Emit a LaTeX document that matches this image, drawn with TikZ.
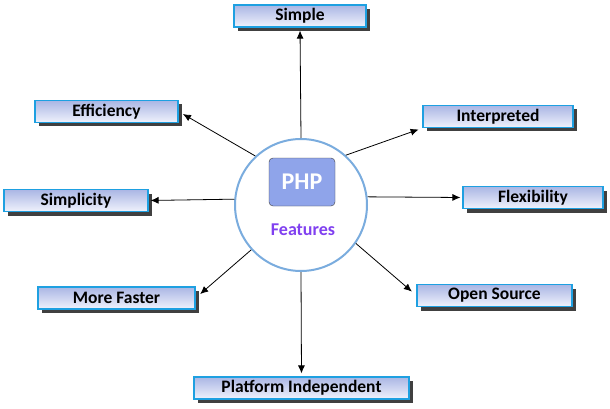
\documentclass[tikz,border=0pt]{standalone}
\usepackage{fontspec}
\setmainfont{Carlito}
\usetikzlibrary{shapes,arrows.meta,positioning,shadows}
\definecolor{boxtop}{RGB}{170,182,228}
\definecolor{boxbot}{RGB}{240,242,252}
\definecolor{boxline}{RGB}{30,160,225}
\definecolor{ringline}{RGB}{122,172,222}
\definecolor{phpfill}{RGB}{143,164,234}
\definecolor{featpurple}{RGB}{128,64,240}
\tikzset{
  featbox/.style={draw=boxline, line width=1.2pt, top color=boxtop, bottom color=boxbot,
    minimum height=22pt, inner sep=0pt, font=\bfseries\fontsize{17.5}{19}\selectfont,
    drop shadow={shadow xshift=4pt, shadow yshift=-4pt, fill=black!75, opacity=1}},
  arr/.style={-{Latex[length=8pt,width=7pt]}, line width=0.8pt},
}

\begin{document}
\begin{tikzpicture}[x=1pt,y=-1pt]
    \useasboundingbox (0,0) rectangle (610,409);

    % centre
    \node[circle, draw=ringline, line width=2pt, fill=white, minimum size=132pt, inner sep=0pt] (core) at (301,205) {};
    \node[rounded corners=4pt, draw=black!75, fill=phpfill, minimum width=66pt, minimum height=48pt,
          text=white, font=\bfseries\fontsize{24}{26}\selectfont] (php) at (302,182) {PHP};
    \node[text=featpurple, font=\bfseries\fontsize{18}{20}\selectfont] (feat) at (303,230) {Features};

    % features
    \node[featbox, minimum width=132pt] (simple) at (300,16) {Simple};
    \node[featbox, minimum width=143pt] (eff) at (106.5,111.5) {Efficiency};
    \node[featbox, minimum width=150pt] (interp) at (498,116.5) {Interpreted};
    \node[featbox, minimum width=144pt] (simp) at (76,200.5) {Simplicity};
    \node[featbox, minimum width=140pt] (flex) at (533,197.5) {Flexibility};
    \node[featbox, minimum width=157pt] (faster) at (116.5,298) {More Faster};
    \node[featbox, minimum width=155pt] (opensrc) at (494.5,295.5) {Open Source};
    \node[featbox, minimum width=215pt] (plat) at (301.5,388) {Platform Independent};

    % arrows
    \draw[arr, shorten >=3pt] (core.north) -- (simple.south);
    \draw[arr, shorten >=5pt] (core.133) -- (eff.east);
    \draw[arr, shorten >=4pt] (core.48) -- (interp.south west);
    \draw[arr, shorten >=2pt] (core.175) -- (simp.east);
    \draw[arr, shorten >=2pt] (core.7) -- (flex.west);
    \draw[arr, shorten >=6pt] (core.222) -- (faster.east);
    \draw[arr, shorten >=6pt] (core.-35) -- (opensrc.west);
    \draw[arr, shorten >=3pt] (core.south) -- (plat.north);
\end{tikzpicture}
\end{document}
